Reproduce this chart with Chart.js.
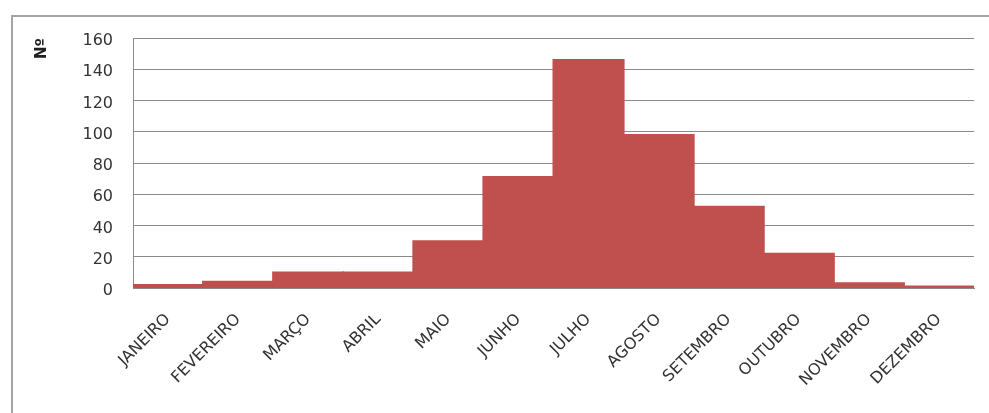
<!DOCTYPE html>
<html>
<head>
<meta charset="utf-8">
<script src="https://cdn.jsdelivr.net/npm/chart.js@4.4.1/dist/chart.umd.min.js"></script>
<style>
  html, body { margin: 0; padding: 0; background: #ffffff; }
  #wrap { position: relative; width: 989px; height: 413px; }
  canvas { display: block; }
</style>
</head>
<body>
<div id="wrap"><canvas id="c" width="989" height="413"></canvas></div>
<script>
const categories = ["JANEIRO", "FEVEREIRO", "MARÇO", "ABRIL", "MAIO", "JUNHO", "JULHO", "AGOSTO", "SETEMBRO", "OUTUBRO", "NOVEMBRO", "DEZEMBRO"];
const counts = [2, 4, 10, 10, 30, 71, 146, 98, 52, 22, 3, 1];
const yTicks = [0, 20, 40, 60, 80, 100, 120, 140, 160];
const yTitle = "Nº";

const frame = {
  id: 'frame',
  beforeDraw(chart) {
    const ctx = chart.ctx;
    ctx.save();
    ctx.fillStyle = '#ffffff';
    ctx.fillRect(0, 0, chart.width, chart.height);
    ctx.strokeStyle = '#a3a3a3';
    ctx.lineWidth = 2;
    ctx.beginPath();
    ctx.moveTo(12, chart.height + 2);
    ctx.lineTo(12, 16);
    ctx.lineTo(chart.width + 2, 16);
    ctx.stroke();
    ctx.restore();
  }
};

new Chart(document.getElementById('c'), {
  type: 'bar',
  data: {
    labels: categories,
    datasets: [{
      data: counts,
      backgroundColor: '#c0504d',
      borderWidth: 0,
      inflateAmount: 1,
      barPercentage: 1.0,
      categoryPercentage: 1.0
    }]
  },
  plugins: [frame],
  options: {
    responsive: false,
    animation: false,
    devicePixelRatio: 1,
    layout: { padding: { top: 38, right: 15, left: 0, bottom: 0 } },
    plugins: { legend: { display: false }, tooltip: { enabled: false } },
    scales: {
      x: {
        grid: { display: false, drawTicks: false },
        border: { display: true, color: '#8a8a8a', width: 1 },
        ticks: {
          minRotation: 45,
          maxRotation: 45,
          autoSkip: false,
          padding: 22,
          color: '#333333',
          font: { family: 'DejaVu Sans', size: 16 }
        },
        afterFit(scale) { scale.height = 125; }
      },
      y: {
        min: 0,
        max: 160,
        afterBuildTicks(scale) { scale.ticks = yTicks.map(v => ({ value: v })); },
        grid: { color: '#8a8a8a', lineWidth: 1, drawTicks: false },
        border: { display: true, color: '#8a8a8a', width: 1 },
        ticks: {
          padding: 20,
          labelOffset: 3,
          color: '#333333',
          font: { family: 'DejaVu Sans', size: 16 }
        },
        title: {
          display: true,
          text: yTitle,
          align: 'end',
          color: '#202020',
          font: { family: 'DejaVu Sans', size: 15, weight: 'bold' },
          padding: { top: 33, bottom: 0 }
        },
        afterFit(scale) { scale.width = 133; }
      }
    }
  }
});
</script>
</body>
</html>
